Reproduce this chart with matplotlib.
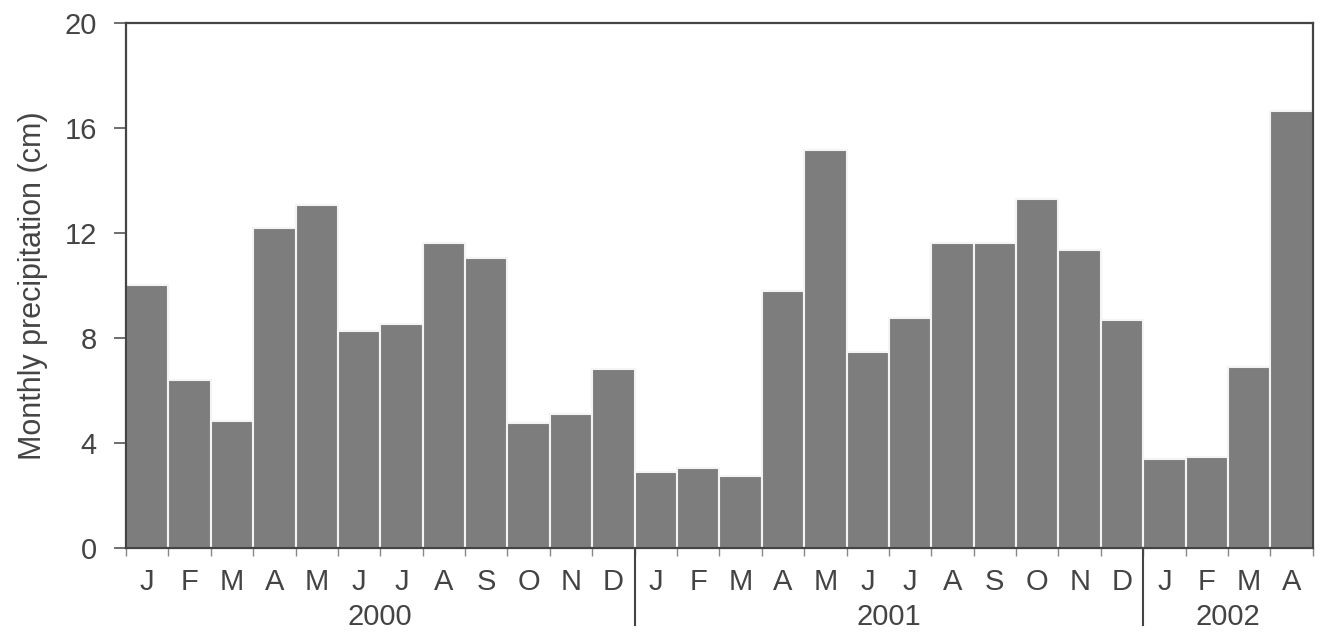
import matplotlib
matplotlib.use("Agg")
import matplotlib.pyplot as plt
import numpy as np

months = ["J","F","M","A","M","J","J","A","S","O","N","D",
          "J","F","M","A","M","J","J","A","S","O","N","D",
          "J","F","M","A"]
years = ["2000", "2001", "2002"]
year_counts = [12, 12, 4]
precip = [10.0, 6.4, 4.85, 12.2, 13.05, 8.25, 8.55, 11.6, 11.05, 4.75, 5.1, 6.8,
          2.9, 3.05, 2.75, 9.8, 15.15, 7.45, 8.75, 11.6, 11.6, 13.3, 11.35, 8.7,
          3.4, 3.45, 6.9, 16.65]

plt.rcParams['font.family'] = ['Liberation Sans', 'DejaVu Sans']
txt = '#444444'
fig = plt.figure(figsize=(13.22, 6.33), dpi=100)
ax = fig.add_axes([0.0953, 0.1343, 0.8977, 0.8294])
x = np.arange(len(precip))
ax.bar(x, precip, width=1.0, color='#7d7d7d', edgecolor='#f4f4f4', linewidth=1.5)
ax.set_xlim(-0.5, len(precip) - 0.5)
ax.set_ylim(0, 20)
ax.set_yticks([0, 4, 8, 12, 16, 20])
ax.tick_params(axis='y', direction='out', length=9, width=1.2, color='#555555',
               labelsize=21, labelcolor=txt, pad=12)
ax.set_xticks(np.arange(-0.5, len(precip)))
ax.set_xticklabels([])
ax.tick_params(axis='x', direction='out', length=6, width=1.0, color='#888888')
for i, m in enumerate(months):
    ax.text(i, -1.3, m, ha='center', va='center', fontsize=21, color=txt)
start = 0
for yr, c in zip(years, year_counts):
    ax.text(start + (c - 1) / 2, -2.62, yr, ha='center', va='center', fontsize=21,
            color=txt)
    start += c
    if start < len(precip):
        ax.plot([start - 0.5, start - 0.5], [0, -2.95], color='#444444', lw=1.5,
                clip_on=False)
for s in ax.spines.values():
    s.set_color('#444444')
    s.set_linewidth(1.6)
ax.set_ylabel('Monthly precipitation (cm)', fontsize=22, color=txt, labelpad=12)
fig.savefig('out.png', dpi=100, facecolor='white')
